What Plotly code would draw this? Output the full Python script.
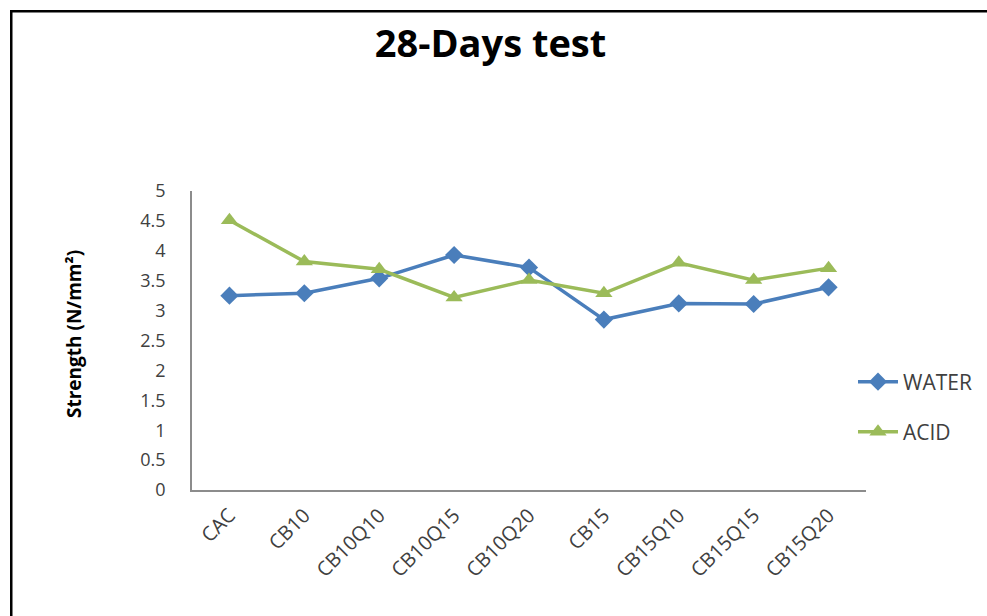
import plotly.graph_objects as go

# Mix designs along the category axis
categories = ["CAC", "CB10", "CB10Q10", "CB10Q15", "CB10Q20",
              "CB15", "CB15Q10", "CB15Q15", "CB15Q20"]

# 28-day strength (N/mm²) for each curing condition
water = [3.25, 3.29, 3.54, 3.93, 3.72, 2.85, 3.12, 3.11, 3.39]
acid = [4.51, 3.82, 3.69, 3.22, 3.51, 3.29, 3.80, 3.51, 3.71]

y_ticks = [0, 0.5, 1, 1.5, 2, 2.5, 3, 3.5, 4, 4.5, 5]

W, H = 987, 616
L, R, T, B = 192, 121, 191, 126
PW, PH = W - L - R, H - T - B

FONT = "Open Sans"
TXT = "#404040"

fig = go.Figure()
fig.add_trace(go.Scatter(
    x=categories, y=water, name="WATER", mode="lines+markers",
    line=dict(color="#4A7EBB", width=3.5),
    marker=dict(symbol="diamond", size=14, color="#4A7EBB"),
    legend="legend", showlegend=True,
))
fig.add_trace(go.Scatter(
    x=categories, y=acid, name="ACID", mode="lines+markers",
    line=dict(color="#9BBB59", width=3.5),
    marker=dict(symbol="triangle-up", size=15, color="#9BBB59"),
    legend="legend2", showlegend=True,
))


def px_x(px):
    return (px - L) / PW


def px_y(py):
    return (H - B - py) / PH


legend_style = dict(
    xanchor="left", yanchor="middle", bgcolor="rgba(0,0,0,0)",
    font=dict(family=FONT, size=21, color=TXT), itemwidth=40,
    visible=True,
)

# Chart frame: a bordered box whose right and bottom edges fall off the page
frame = dict(
    text="", showarrow=False, xref="paper", yref="paper",
    x=px_x(10), y=px_y(9.5), xanchor="left", yanchor="top",
    width=W + 60, height=H + 60, bordercolor="#000000", borderwidth=2.5,
    borderpad=0, bgcolor="rgba(0,0,0,0)",
)

fig.update_layout(
    width=W, height=H, showlegend=True,
    margin=dict(l=L, r=R, t=T, b=B, autoexpand=False),
    paper_bgcolor="white", plot_bgcolor="white",
    title=dict(text="<b>28-Days test</b>", x=0.497, xref="container",
               y=1 - 44 / H, yref="container", xanchor="center", yanchor="middle",
               font=dict(family=FONT, size=38, color="#000000")),
    xaxis=dict(
        type="category", range=[-0.5, len(categories) - 0.5],
        showline=True, linecolor="#8C8C8C", linewidth=1.5,
        showgrid=False, zeroline=False, ticks="", tickangle=-45,
        tickfont=dict(family=FONT, size=20, color=TXT),
        ticklabelstandoff=4,
    ),
    yaxis=dict(
        range=[0, 5], tickvals=y_ticks,
        showline=True, linecolor="#8C8C8C", linewidth=1.5,
        showgrid=False, zeroline=False, ticks="",
        tickfont=dict(family=FONT, size=18, color=TXT),
        ticklabelstandoff=21,
    ),
    legend=dict(x=px_x(853), y=px_y(382), **legend_style),
    legend2=dict(x=px_x(853), y=px_y(432), **legend_style),
    annotations=[
        dict(
            text="<b>Strength (N/mm²)</b>", textangle=-90,
            xref="paper", yref="paper", x=px_x(74), y=px_y(334),
            xanchor="center", yanchor="middle", showarrow=False,
            font=dict(family=FONT, size=19, color="#000000"),
        ),
        frame,
    ],
)

fig.write_html("out.html")
